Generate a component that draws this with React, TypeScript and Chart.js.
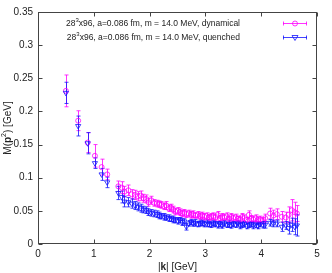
import React, { useEffect, useRef } from "react";
import { Chart, registerables } from "chart.js";
Chart.register(...registerables);

const momenta = [
  0.50, 0.72, 0.89, 1.02, 1.14, 1.24, 1.44, 1.50, 1.55, 1.62,
  1.68, 1.74, 1.79, 1.84, 1.89, 1.94, 1.98, 2.03, 2.08, 2.13,
  2.17, 2.21, 2.26, 2.30, 2.34, 2.38, 2.42, 2.46, 2.50, 2.54,
  2.58, 2.62, 2.66, 2.70, 2.74, 2.78, 2.82, 2.86, 2.90, 2.94,
  2.98, 3.02, 3.06, 3.10, 3.14, 3.18, 3.22, 3.26, 3.30, 3.34,
  3.38, 3.42, 3.46, 3.50, 3.54, 3.58, 3.62, 3.66, 3.70, 3.74,
  3.78, 3.82, 3.86, 3.90, 3.94, 3.98, 4.03, 4.07, 4.16, 4.22,
  4.28, 4.37, 4.44, 4.49, 4.55, 4.60, 4.64,
];

const dynamicalMass = [
  0.231, 0.186, 0.153, 0.133, 0.116, 0.105, 0.087, 0.085, 0.079, 0.081,
  0.075, 0.074, 0.072, 0.073, 0.069, 0.068, 0.063, 0.066, 0.062, 0.061,
  0.060, 0.059, 0.057, 0.058, 0.054, 0.055, 0.052, 0.049, 0.050, 0.048,
  0.046, 0.047, 0.045, 0.046, 0.044, 0.045, 0.043, 0.044, 0.042, 0.043,
  0.041, 0.042, 0.040, 0.041, 0.042, 0.040, 0.044, 0.039, 0.041, 0.040,
  0.042, 0.038, 0.041, 0.039, 0.040, 0.038, 0.037, 0.041, 0.039, 0.036,
  0.044, 0.038, 0.037, 0.039, 0.036, 0.037, 0.035, 0.039, 0.046, 0.043,
  0.045, 0.041, 0.040, 0.044, 0.051, 0.048, 0.046,
];

const dynamicalErr = [
  0.024, 0.015, 0.015, 0.017, 0.012, 0.008, 0.008, 0.009, 0.008, 0.008,
  0.007, 0.007, 0.007, 0.007, 0.006, 0.006, 0.006, 0.006, 0.005, 0.005,
  0.005, 0.005, 0.005, 0.006, 0.005, 0.005, 0.005, 0.005, 0.005, 0.005,
  0.005, 0.005, 0.005, 0.005, 0.005, 0.005, 0.004, 0.005, 0.005, 0.005,
  0.005, 0.005, 0.004, 0.005, 0.005, 0.005, 0.005, 0.004, 0.005, 0.005,
  0.005, 0.004, 0.005, 0.005, 0.005, 0.004, 0.005, 0.005, 0.005, 0.004,
  0.006, 0.005, 0.005, 0.005, 0.005, 0.005, 0.005, 0.006, 0.008, 0.008,
  0.008, 0.008, 0.008, 0.012, 0.016, 0.015, 0.012,
];

const quenchedMass = [
  0.228, 0.178, 0.152, 0.122, 0.105, 0.093, 0.077, 0.071, 0.064, 0.063,
  0.061, 0.058, 0.056, 0.054, 0.052, 0.051, 0.048, 0.047, 0.046, 0.045,
  0.043, 0.042, 0.041, 0.040, 0.039, 0.038, 0.037, 0.036, 0.035, 0.036,
  0.033, 0.034, 0.026, 0.031, 0.033, 0.031, 0.032, 0.030, 0.031, 0.032,
  0.030, 0.031, 0.030, 0.029, 0.031, 0.030, 0.029, 0.030, 0.028, 0.031,
  0.029, 0.030, 0.028, 0.030, 0.029, 0.031, 0.028, 0.029, 0.030, 0.027,
  0.029, 0.030, 0.028, 0.029, 0.027, 0.030, 0.029, 0.029, 0.032, 0.031,
  0.031, 0.026, 0.028, 0.024, 0.029, 0.026, 0.028,
];

const quenchedErr = [
  0.016, 0.015, 0.016, 0.008, 0.009, 0.008, 0.010, 0.009, 0.008, 0.007,
  0.007, 0.006, 0.006, 0.006, 0.005, 0.005, 0.005, 0.005, 0.005, 0.005,
  0.005, 0.004, 0.005, 0.004, 0.005, 0.004, 0.005, 0.004, 0.005, 0.004,
  0.005, 0.004, 0.005, 0.004, 0.004, 0.004, 0.005, 0.004, 0.004, 0.004,
  0.004, 0.005, 0.004, 0.004, 0.004, 0.004, 0.005, 0.004, 0.004, 0.004,
  0.004, 0.005, 0.004, 0.004, 0.004, 0.004, 0.005, 0.004, 0.004, 0.004,
  0.004, 0.004, 0.005, 0.004, 0.004, 0.004, 0.005, 0.005, 0.005, 0.005,
  0.005, 0.007, 0.006, 0.009, 0.010, 0.012, 0.016,
];

const xTickValues = [0, 1, 2, 3, 4, 5];
const xTickLabels = ["0", "1", "2", "3", "4", "5"];
const yTickValues = [0, 0.05, 0.1, 0.15, 0.2, 0.25, 0.3, 0.35];
const yTickLabels = ["0", "0.05", "0.1", "0.15", "0.2", "0.25", "0.3", "0.35"];

const seriesNames = [
  ["28", "3", "x96, a=0.086 fm, m = 14.0 MeV, dynamical"],
  ["28", "3", "x96, a=0.086 fm, m = 14.0 MeV, quenched"],
];

const DYN_COLOR = "rgba(255, 0, 255, 0.8)";
const QUE_COLOR = "rgba(20, 20, 255, 0.8)";
const FONT = "'Liberation Sans', Arial, sans-serif";
const FRAME = "#444";

const errorBarPlugin = {
  id: "errorBars",
  beforeDatasetsDraw(chart: any) {
    const ctx = chart.ctx;
    const xs = chart.scales.x;
    const ys = chart.scales.y;
    const sets = [
      { vals: dynamicalMass, errs: dynamicalErr, color: DYN_COLOR },
      { vals: quenchedMass, errs: quenchedErr, color: QUE_COLOR },
    ];
    ctx.save();
    ctx.lineWidth = 1;
    for (const s of sets) {
      ctx.strokeStyle = s.color;
      for (let i = 0; i < momenta.length; i++) {
        const px = Math.round(xs.getPixelForValue(momenta[i])) + 0.5;
        const top = ys.getPixelForValue(s.vals[i] + s.errs[i]);
        const bot = ys.getPixelForValue(s.vals[i] - s.errs[i]);
        ctx.beginPath();
        ctx.moveTo(px, top);
        ctx.lineTo(px, bot);
        ctx.moveTo(px - 2, top);
        ctx.lineTo(px + 2, top);
        ctx.moveTo(px - 2, bot);
        ctx.lineTo(px + 2, bot);
        ctx.stroke();
      }
    }
    ctx.restore();
  },
};

const framePlugin = {
  id: "frame",
  afterDraw(chart: any) {
    const ctx = chart.ctx;
    const a = chart.chartArea;
    const xs = chart.scales.x;
    const ys = chart.scales.y;
    ctx.save();
    ctx.strokeStyle = FRAME;
    ctx.lineWidth = 1;
    const L = Math.round(a.left) + 0.5;
    const R = Math.round(a.right) - 0.5;
    const T = Math.round(a.top) + 0.5;
    const B = Math.round(a.bottom) - 0.5;
    ctx.strokeRect(L, T, R - L, B - T);
    ctx.beginPath();
    for (const v of yTickValues) {
      const py = Math.round(ys.getPixelForValue(v)) + 0.5;
      ctx.moveTo(L, py);
      ctx.lineTo(L + 4, py);
      ctx.moveTo(R, py);
      ctx.lineTo(R - 4, py);
    }
    for (const v of xTickValues) {
      const px = Math.round(xs.getPixelForValue(v)) + 0.5;
      ctx.moveTo(px, B);
      ctx.lineTo(px, B - 4);
      ctx.moveTo(px, T);
      ctx.lineTo(px, T + 4);
    }
    ctx.stroke();

    // axis titles
    ctx.fillStyle = "#222";
    ctx.textBaseline = "middle";
    const cx = (a.left + a.right) / 2;
    const parts: [string, string][] = [
      ["|", `10px ${FONT}`],
      ["k", `bold 10px ${FONT}`],
      ["| [GeV]", `10px ${FONT}`],
    ];
    let total = 0;
    for (const [t, f] of parts) {
      ctx.font = f;
      total += ctx.measureText(t).width;
    }
    let x = cx - total / 2;
    for (const [t, f] of parts) {
      ctx.font = f;
      ctx.textAlign = "left";
      ctx.fillText(t, x, 267);
      x += ctx.measureText(t).width;
    }

    ctx.save();
    ctx.translate(8, (a.top + a.bottom) / 2);
    ctx.rotate(-Math.PI / 2);
    const yparts: [string, string, number][] = [
      ["M(", `10px ${FONT}`, 0],
      ["p", `bold 10px ${FONT}`, 0],
      ["2", `7px ${FONT}`, -4],
      [") [GeV]", `10px ${FONT}`, 0],
    ];
    total = 0;
    for (const [t, f] of yparts) {
      ctx.font = f;
      total += ctx.measureText(t).width;
    }
    x = -total / 2;
    for (const [t, f, dy] of yparts) {
      ctx.font = f;
      ctx.textAlign = "left";
      ctx.fillText(t, x, dy);
      x += ctx.measureText(t).width;
    }
    ctx.restore();

    // legend
    const rows = [
      { name: seriesNames[0], color: DYN_COLOR, y: 24, style: "circle" },
      { name: seriesNames[1], color: QUE_COLOR, y: 38, style: "tri" },
    ];
    for (const r of rows) {
      ctx.fillStyle = "#222";
      ctx.font = `8.5px ${FONT}`;
      const w1 = ctx.measureText(r.name[0]).width;
      const w3 = ctx.measureText(r.name[2]).width;
      ctx.font = `6px ${FONT}`;
      const w2 = ctx.measureText(r.name[1]).width;
      const right = 240;
      let sx = right - (w1 + w2 + w3);
      ctx.textAlign = "left";
      ctx.font = `8.5px ${FONT}`;
      ctx.fillText(r.name[0], sx, r.y);
      sx += w1;
      ctx.font = `6px ${FONT}`;
      ctx.fillText(r.name[1], sx, r.y - 4);
      sx += w2;
      ctx.font = `8.5px ${FONT}`;
      ctx.fillText(r.name[2], sx, r.y);

      ctx.strokeStyle = r.color;
      ctx.lineWidth = 1;
      const ly = r.y - 1 + 0.5;
      ctx.beginPath();
      ctx.moveTo(283, ly);
      ctx.lineTo(307, ly);
      ctx.moveTo(283.5, ly - 2);
      ctx.lineTo(283.5, ly + 2);
      ctx.moveTo(306.5, ly - 2);
      ctx.lineTo(306.5, ly + 2);
      ctx.stroke();
      ctx.beginPath();
      if (r.style === "circle") {
        ctx.arc(295, ly, 2.5, 0, Math.PI * 2);
      } else {
        ctx.moveTo(292, ly - 2);
        ctx.lineTo(298, ly - 2);
        ctx.lineTo(295, ly + 3);
        ctx.closePath();
      }
      ctx.stroke();
    }
    ctx.restore();
  },
};

export default function App() {
  const ref = useRef<HTMLCanvasElement>(null);
  useEffect(() => {
    const canvas = ref.current;
    if (!canvas) return;
    const chart = new Chart(canvas, {
      type: "scatter",
      data: {
        datasets: [
          {
            label: "dynamical",
            data: momenta.map((k, i) => ({ x: k, y: dynamicalMass[i] })),
            borderColor: DYN_COLOR,
            backgroundColor: "rgba(0,0,0,0)",
            pointStyle: "circle",
            pointRadius: 2.5,
            pointBorderWidth: 1,
            order: 1,
          },
          {
            label: "quenched",
            data: momenta.map((k, i) => ({ x: k, y: quenchedMass[i] })),
            borderColor: QUE_COLOR,
            backgroundColor: "rgba(0,0,0,0)",
            pointStyle: "triangle",
            rotation: 180,
            pointRadius: 3,
            pointBorderWidth: 1,
            order: 0,
          },
        ],
      },
      options: {
        animation: false,
        responsive: false,
        devicePixelRatio: 1,
        layout: { padding: { top: 12, right: 15, left: 0, bottom: 0 } },
        plugins: { legend: { display: false }, tooltip: { enabled: false } },
        scales: {
          x: {
            type: "linear",
            min: 0,
            max: 5,
            grid: { display: false, drawTicks: false, tickLength: 0 },
            border: { display: false },
            afterBuildTicks: (s: any) => {
              s.ticks = xTickValues.map((v) => ({ value: v }));
            },
            afterFit: (s: any) => {
              s.height = 29;
            },
            ticks: {
              padding: 4,
              color: "#222",
              font: { family: FONT, size: 10 },
              maxRotation: 0,
              callback: (_v: any, i: number) => xTickLabels[i],
            },
          },
          y: {
            type: "linear",
            min: 0,
            max: 0.35,
            grid: { display: false, drawTicks: false, tickLength: 0 },
            border: { display: false },
            afterBuildTicks: (s: any) => {
              s.ticks = yTickValues.map((v) => ({ value: v }));
            },
            afterFit: (s: any) => {
              s.width = 38;
            },
            ticks: {
              padding: 5,
              color: "#222",
              font: { family: FONT, size: 10 },
              callback: (_v: any, i: number) => yTickLabels[i],
            },
          },
        },
      },
      plugins: [errorBarPlugin, framePlugin],
    } as any);
    return () => chart.destroy();
  }, []);
  return (
    <div style={{ position: "fixed", left: 0, top: 0, width: 332, height: 273, background: "#fff" }}>
      <canvas ref={ref} width={332} height={273} style={{ width: 332, height: 273, display: "block" }} />
    </div>
  );
}
